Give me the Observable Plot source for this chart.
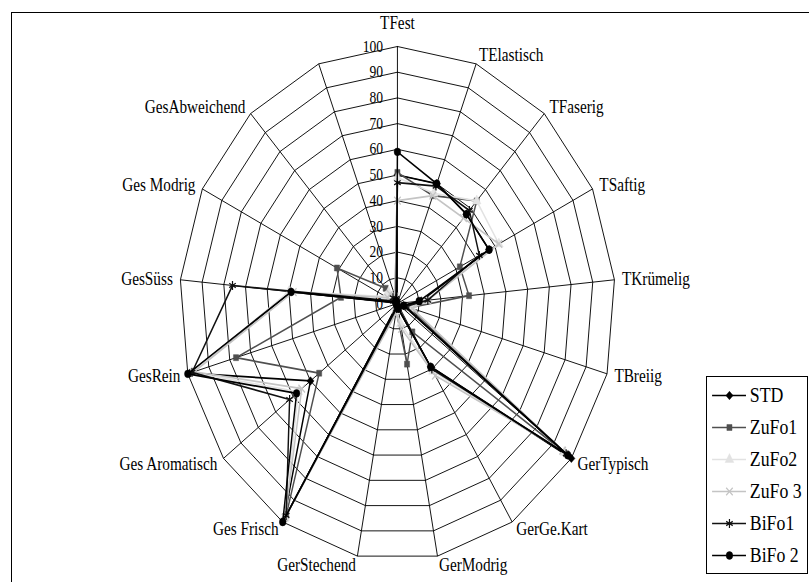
<!DOCTYPE html>
<html><head><meta charset="utf-8">
<script src="https://cdn.jsdelivr.net/npm/d3@7"></script>
<script src="https://cdn.jsdelivr.net/npm/@observablehq/plot@0.6"></script>
<style>
html,body{margin:0;padding:0;background:#fff;overflow:hidden;}
#wrap{position:relative;width:809px;height:582px;overflow:hidden;background:#fff;}
#chart{position:absolute;left:0;top:0;}
#frame{position:absolute;left:11px;top:12px;width:798px;height:570px;border-left:1px solid #000;border-top:1px solid #000;box-sizing:border-box;}
#legend{position:absolute;left:706px;top:376px;width:102px;height:198px;border:1px solid #000;background:#fff;box-sizing:border-box;}
</style></head><body>
<div id="wrap"><div id="chart"></div><div id="frame"></div><div id="legend"></div></div>
<script>
const categories = ["TFest","TElastisch","TFaserig","TSaftig","TKrümelig","TBreiig","GerTypisch","GerGe.Kart","GerModrig","GerStechend","Ges Frisch","Ges Aromatisch","GesRein","GesSüss","Ges Modrig","GesAbweichend",""];
const seriesNames = ["STD","ZuFo1","ZuFo2","ZuFo 3","BiFo1","BiFo 2"];
const STD   = [50,50,47,47,11,3,100,29,2,1,99,50,99,49,1,1,1];
const ZuFo1 = [51,45,54,32,33,6,97,13,24,3,97,45,77,26,31,8,3];
const ZuFo2 = [49,46,54,52,13,7,96,31,8,3,98,57,98,50,6,6,3];
const ZuFo3 = [40,45,45,52,14,7,95,33,10,4,98,55,97,48,5,5,3];
const BiFo1 = [47,49,49,42,14,4,97,30,2,2,97,62,98,76,2,3,2];
const BiFo2 = [59,50,47,47,10,3,98,29,2,1,100,58,100,49,1,1,1];
const tickLabels = [0,10,20,30,40,50,60,70,80,90,100];

const seriesValues = [STD, ZuFo1, ZuFo2, ZuFo3, BiFo1, BiFo2];
const seriesColors = ["#000000","#4f4f4f","#e2e2e2","#c4c4c4","#111111","#000000"];
const seriesSymbols = ["diamond2","square","triangle","times","asterisk","circle"];
const seriesFilled = [true,true,true,false,false,true];
const seriesR = [3.8,3.4,3.8,3.6,4.2,3.9];

const SX = 0.848;               // horizontal squeeze of the picture
const W = Math.round(809 / SX); // internal width
const H = 582;
const cx = 397 / SX, cy = 303, R = 257;
const N = categories.length;
const ang = i => 2 * Math.PI * i / N;
const px = (v, i) => v * Math.sin(ang(i % N));
const py = (v, i) => v * Math.cos(ang(i % N));

const ringData = tickLabels.filter(t => t > 0).flatMap(t =>
  d3.range(N + 1).map(i => ({t, x: px(t, i), y: py(t, i)})));
const spokeData = categories.map((c, i) => ({x: px(100, i), y: py(100, i)}));

const series = seriesNames.map((name, k) => ({
  name, color: seriesColors[k], symbol: seriesSymbols[k], filled: seriesFilled[k], r: seriesR[k],
  points: d3.range(N + 1).map(i => ({name, cat: categories[i % N], v: seriesValues[k][i % N],
    x: px(seriesValues[k][i % N], i), y: py(seriesValues[k][i % N], i)}))
}));

const labelData = categories.map((c, i) => ({c, i})).filter(d => d.c !== "");
const lblR = d => d.i === 0 ? 109 : 103.5;
const lblX = d => px(lblR(d), d.i);
const lblY = d => py(lblR(d), d.i);
const font = "'Liberation Serif', 'Times New Roman', serif";

const marks = [
  Plot.line(ringData, {x: "x", y: "y", z: "t", stroke: "#000", strokeWidth: 1}),
  Plot.link(spokeData, {x1: 0, y1: 0, x2: "x", y2: "y", stroke: "#000", strokeWidth: 1}),
  Plot.text(tickLabels, {x: 0, y: d => d, text: d => String(d), textAnchor: "end", dx: -17, fontSize: 16, fill: "#000"})
];
for (const s of series) {
  marks.push(Plot.line(s.points, {x: "x", y: "y", stroke: s.color, strokeWidth: 1.7}));
  marks.push(Plot.dot(s.points.slice(0, N), {x: "x", y: "y", symbol: s.symbol, r: s.r,
    fill: s.filled ? s.color : "none", stroke: s.color, strokeWidth: s.filled ? 0.5 : 1.4}));
}
marks.push(
  Plot.text(labelData.filter(d => d.i === 0), {x: lblX, y: lblY, text: "c", textAnchor: "middle", fontSize: 18, fill: "#000"}),
  Plot.text(labelData.filter(d => d.i >= 1 && d.i <= 8), {x: lblX, y: lblY, text: "c", textAnchor: "start", fontSize: 18, fill: "#000"}),
  Plot.text(labelData.filter(d => d.i >= 9), {x: lblX, y: lblY, text: "c", textAnchor: "end", fontSize: 18, fill: "#000"})
);

function fitSvg(svg, w, h) {
  svg.querySelectorAll("style").forEach(e => e.remove());
  svg.setAttribute("width", w);
  svg.setAttribute("height", h);
  svg.setAttribute("preserveAspectRatio", "none");
  svg.style.display = "block";
  svg.style.width = w + "px";
  svg.style.height = h + "px";
  svg.style.maxWidth = "none";
  svg.style.background = "transparent";
  return svg;
}

const chart = Plot.plot({
  width: W, height: H, margin: 0,
  x: {domain: [-100, 100], range: [cx - R, cx + R], axis: null},
  y: {domain: [-100, 100], range: [cy + R, cy - R], axis: null},
  style: {fontFamily: font, background: "transparent"},
  marks
});
document.getElementById("chart").appendChild(fitSvg(chart, 809, H));

// legend
const LWd = 100, LHd = 196;
const LW = Math.round(LWd / SX);
const legMarks = [
  Plot.ruleY(series, {y: "name", x1: 6, x2: 46, stroke: "color", strokeWidth: 1.7})
];
for (const s of series) {
  legMarks.push(Plot.dot([s], {x: 26, y: "name", symbol: s.symbol, r: s.r,
    fill: s.filled ? s.color : "none", stroke: s.color, strokeWidth: s.filled ? 0.5 : 1.4}));
}
legMarks.push(Plot.text(series, {x: 50, y: "name", text: "name", textAnchor: "start", fontSize: 21, fill: "#000"}));
const legend = Plot.plot({
  width: LW, height: LHd, margin: 0,
  x: {type: "identity"},
  y: {type: "point", domain: seriesNames, range: [16, 180], padding: 0, axis: null},
  style: {fontFamily: font, background: "transparent"},
  marks: legMarks
});
document.getElementById("legend").appendChild(fitSvg(legend, LWd, LHd));
</script>
</body></html>
